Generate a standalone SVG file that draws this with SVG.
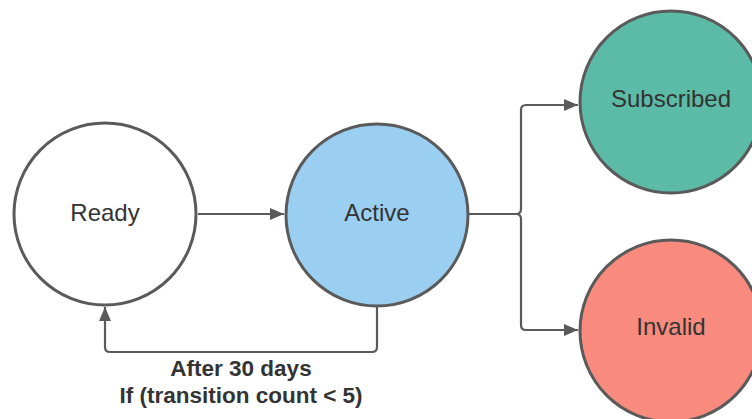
<svg xmlns="http://www.w3.org/2000/svg" width="752" height="419" viewBox="0 0 752 419">
<style>
.node{stroke:#5a5a5a;stroke-width:3}
.lbl{font-family:"Liberation Sans",Arial,sans-serif;font-size:24px;fill:#333;text-anchor:middle;dominant-baseline:central}
.edge{fill:none;stroke:#5a5a5a;stroke-width:2.2}
.el{font-family:"Liberation Sans",Arial,sans-serif;font-size:22.5px;font-weight:bold;fill:#333;text-anchor:middle}
</style>
<defs>
<marker id="ah" viewBox="0 0 14 12" refX="14" refY="6" markerWidth="14" markerHeight="12" markerUnits="userSpaceOnUse" orient="auto">
<path d="M0,0 L14,6 L0,12 z" fill="#5a5a5a"/>
</marker>
</defs>
<rect width="752" height="419" fill="#fff"/>
<g id="connectors">
<path class="edge" d="M198,214 H284" marker-end="url(#ah)"/>
<path class="edge" d="M469,214 H516 Q521,214 521,209 V110 Q521,105 526,105 H578" marker-end="url(#ah)"/>
<path class="edge" d="M516,214 Q521,214 521,219 V325 Q521,330 526,330 H578" marker-end="url(#ah)"/>
<path class="edge" d="M377,307 V347 Q377,352 372,352 H110 Q105,352 105,347 V307" marker-end="url(#ah)"/>
<text class="el" x="241" y="376">After 30 days</text>
<text class="el" x="241" y="403">If (transition count &lt; 5)</text>
</g>
<g id="ready">
<circle class="node" cx="105" cy="214" r="91" fill="#fff"/>
<text class="lbl" x="105" y="212">Ready</text>
</g>
<g id="active">
<circle class="node" cx="377" cy="215" r="91" fill="#9acff2"/>
<text class="lbl" x="377" y="212">Active</text>
</g>
<g id="subscribed">
<circle class="node" cx="671" cy="102" r="91" fill="#5bbba6"/>
<text class="lbl" x="671" y="98">Subscribed</text>
</g>
<g id="invalid">
<circle class="node" cx="671" cy="331" r="91" fill="#f98b7e"/>
<text class="lbl" x="671" y="326">Invalid</text>
</g>
</svg>
